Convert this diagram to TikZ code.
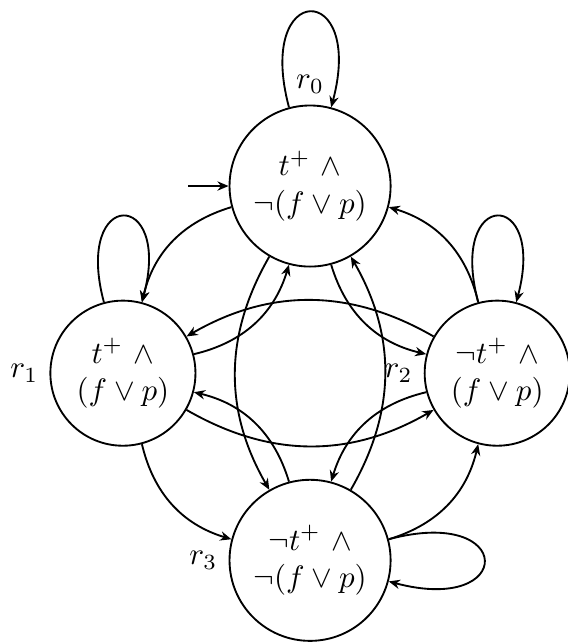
\documentclass[tikz,border=0pt]{standalone}
\usetikzlibrary{positioning,arrows.meta}

\begin{document}
\begin{tikzpicture}[
    semithick,
    node distance=3cm,
    on grid,
    state/.style={draw, circle, align=center},
    line/.style={-{Stealth[length=3.6pt, width=3pt]}},
    every loop/.style={}
]
\useasboundingbox (-100pt,-147.7pt) rectangle (82.9pt,60pt);

\node[state, label=above:$r_0$] (r0) {$t^+ \ \wedge$\\$\neg(f \vee p)$};
\node[state, label=left:$r_1$, below left=of r0] (r1) {$t^+ \ \wedge$\\$(f \vee p)$};
\node[state, label=left:$r_2$, below right=of r0] (r2) {$\neg t^+ \ \wedge$\\$(f \vee p)$};
\node[state, label=left:$r_3$, below right=of r1] (r3) {$\neg t^+ \ \wedge$\\$\neg(f \vee p)$};

\coordinate[left=13pt of r0.west] (start);
\draw[line] (start) -- (r0);

\draw[line] (r0) to[loop above] (r0);
\draw[line] (r1) to[loop above] (r1);
\draw[line] (r2) to[loop above] (r2);
\draw[line] (r3) to[loop right] (r3);

\draw[line] (r0) to[bend right] (r1);
\draw[line] (r1) to[bend right] (r0);
\draw[line] (r0) to[bend right] (r2);
\draw[line] (r2) to[bend right] (r0);
\draw[line] (r0) to[bend right] (r3);
\draw[line] (r3) to[bend right] (r0);
\draw[line] (r1) to[bend right] (r2);
\draw[line] (r2) to[bend right] (r1);
\draw[line] (r1) to[bend right] (r3);
\draw[line] (r3) to[bend right] (r1);
\draw[line] (r2) to[bend right] (r3);
\draw[line] (r3) to[bend right] (r2);
\end{tikzpicture}
\end{document}
